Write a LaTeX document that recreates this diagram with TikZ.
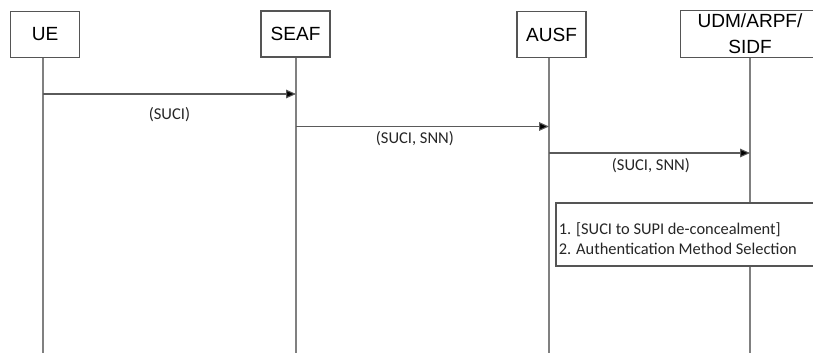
\documentclass[tikz,border=0pt]{standalone}
\usepackage{fontspec}
\setmainfont{Liberation Sans}
\newfontfamily\calfont{Carlito}
\usetikzlibrary{arrows.meta}
\definecolor{lifegray}{HTML}{808080}
\definecolor{boxgray}{HTML}{555555}
\definecolor{msggray}{HTML}{5A5A5A}
\definecolor{labelc}{HTML}{262626}
\begin{document}
\begin{tikzpicture}[x=0.75pt,y=-0.75pt,
  entity/.style={draw=boxgray, line width=0.9pt, fill=white, minimum width=51.75pt, minimum height=34.5pt,
    inner sep=0pt, align=center, font=\fontsize{14.3}{19.5}\selectfont},
  openentity/.style={entity, draw=none, fill=none},
  border/.style={draw=boxgray, line width=0.9pt},
  lifeline/.style={draw=lifegray, line width=1.1pt},
  msg/.style={draw=msggray, line width=0.8pt, -{Triangle[length=7.5pt,width=6.5pt,fill=black]}},
  msglabel/.style={font=\calfont\fontsize{12.4}{14}\selectfont, text=labelc, inner sep=0pt},
  notebox/.style={fill=white},
  notetext/.style={font=\calfont\fontsize{12.3}{15}\selectfont, text=labelc, align=left, inner sep=0pt}
]
\useasboundingbox (0,0) rectangle (813,353);
\fill[white] (0,0) rectangle (813,353);
\coordinate (redge) at (813,0);
% lifeline bottom coordinates
\coordinate (ueb) at (43,353);
\coordinate (seafb) at (296,353);
\coordinate (ausfb) at (549,353);
\coordinate (udmb) at (750,353);
% entities
\node[entity] (ue) at (45,34.5) {UE};
\node[entity] (seaf) at (295.5,34) {SEAF};
\node[entity] (ausf) at (551.5,34.5) {AUSF};
\node[openentity, minimum width=103.5pt] (udm) at (750,34) {UDM/ARPF/\\SIDF};
\draw[border] (udm.north west -| redge) -- (udm.north west) -- (udm.south west) -- (udm.south west -| redge);
% lifelines
\draw[lifeline] (ueb |- ue.south) -- (ueb);
\draw[lifeline] (seafb |- seaf.south) -- (seafb);
\draw[lifeline] (ausfb |- ausf.south) -- (ausfb);
\draw[lifeline] (udmb |- udm.south) -- (udmb);
% message points
\coordinate (m1s) at (43,94);
\coordinate (m1e) at (296,94);
\coordinate (m2s) at (296,126.5);
\coordinate (m2e) at (549,126.5);
\coordinate (m3s) at (549,153);
\coordinate (m3e) at (750,153);
\draw[msg] (m1s) -- (m1e) node[msglabel, pos=0.5, below=10pt] {(SUCI)};
\draw[msg] (m2s) -- (m2e) node[msglabel, pos=0.47, below=3.5pt] {(SUCI, SNN)};
\draw[msg] (m3s) -- (m3e) node[msglabel, pos=0.507, below=4pt] {(SUCI, SNN)};
% note box
\coordinate (nnw) at (556,203);
\coordinate (nsw) at (556,266);
\fill[white] (nnw) rectangle (nsw -| redge);
\draw[border, line width=0.8pt] (nnw -| redge) -- (nnw) -- (nsw) -- (nsw -| redge);
\node[notetext, anchor=west] (notet) at (558.5,239) {1. [SUCI to SUPI de-concealment]\\2. Authentication Method Selection};
\end{tikzpicture}
\end{document}
